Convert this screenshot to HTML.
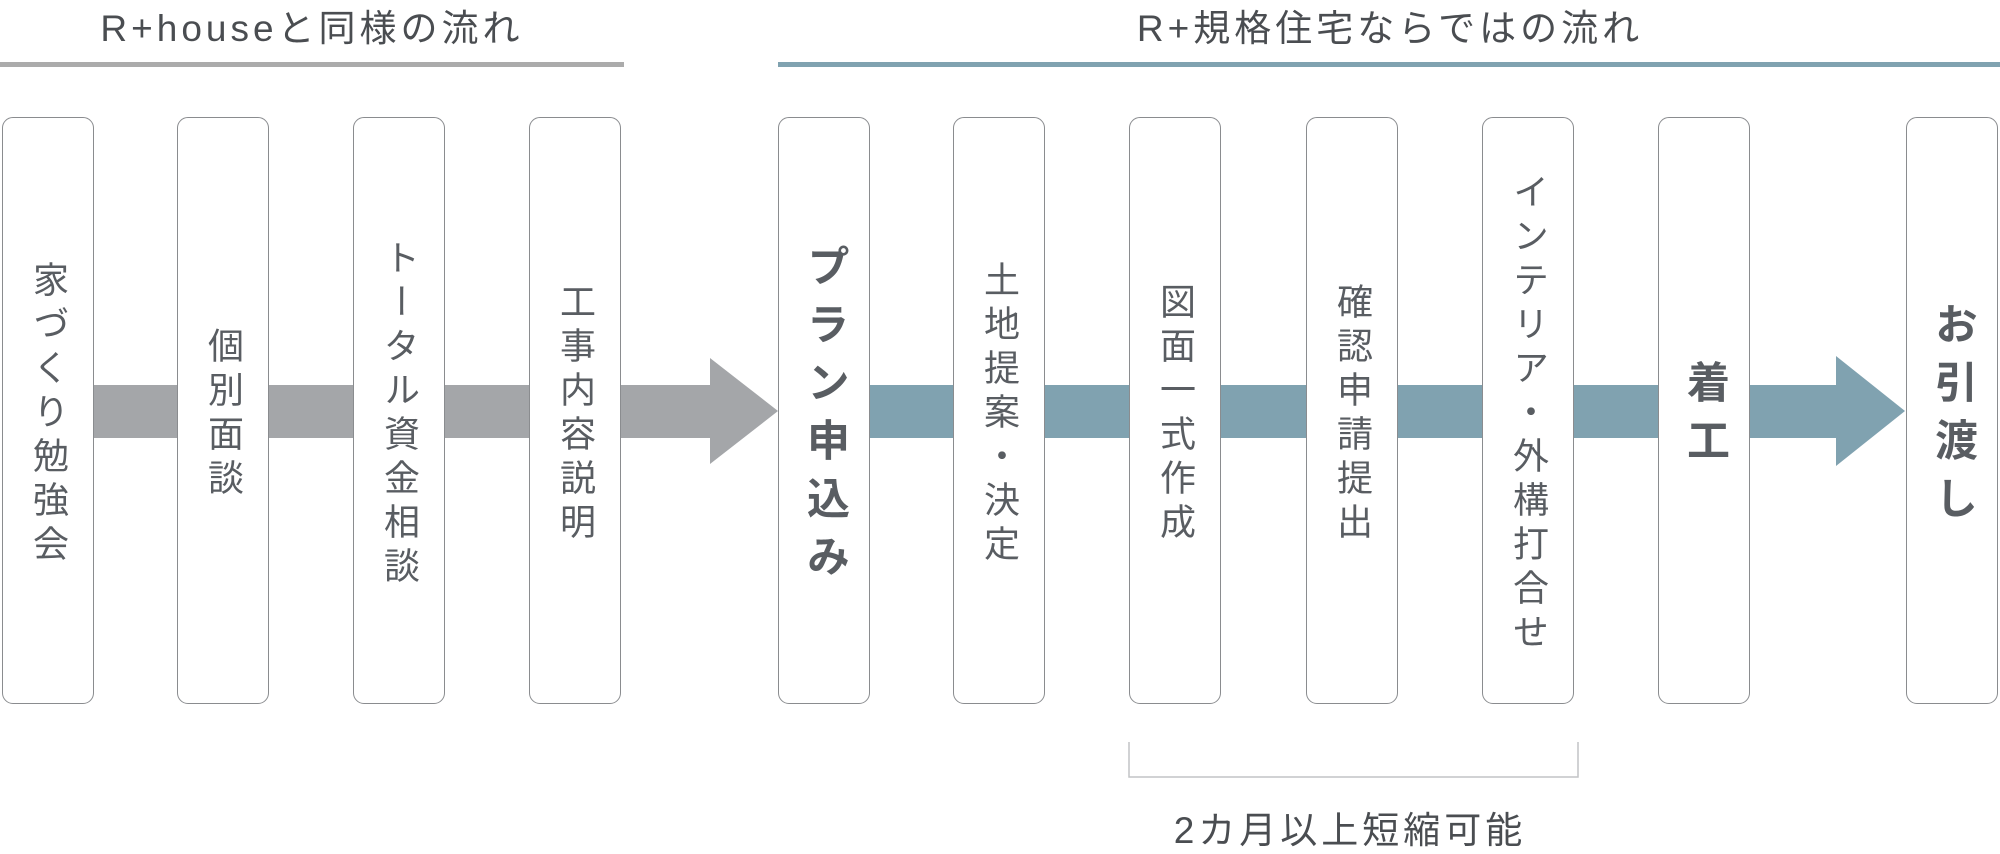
<!DOCTYPE html>
<html><head><meta charset="utf-8"><style>
body{margin:0;width:2000px;height:849px;background:#fff;position:relative;overflow:hidden;font-family:"Liberation Sans","Noto Sans CJK JP",sans-serif;color:#595d62}
.t{position:absolute;font-size:37px;letter-spacing:4px;white-space:nowrap;text-align:center;color:#4a4d51}
.box{position:absolute;top:117px;width:92px;height:587px;border:1.5px solid #8a8c8f;border-radius:11px;background:#fff;box-sizing:border-box;display:flex;align-items:center;justify-content:center}
.box span{writing-mode:vertical-rl;font-size:36px;letter-spacing:8px;line-height:1;padding-top:8px}
.box.b span{font-size:43px;font-weight:bold;letter-spacing:15px;padding-top:15px}
</style></head><body>
<div class="t" style="left:62px;top:-2px;width:500px">R+houseと同様の流れ</div>
<div class="t" style="left:1090px;top:-2px;width:600px">R+規格住宅ならではの流れ</div>
<div style="position:absolute;left:0;top:62px;width:624px;height:5px;background:#ababab"></div>
<div style="position:absolute;left:778px;top:62px;width:1222px;height:5px;background:#80a2b0"></div>
<svg style="position:absolute;left:0;top:0" width="2000" height="849">
<polygon points="60,385 710,385 710,358 778,411 710,464 710,438 60,438" fill="#a4a6a9"/>
<polygon points="860,385 1836,385 1836,356 1905,411 1836,466 1836,438 860,438" fill="#80a2b0"/>
<polyline points="1129,742 1129,777 1578,777 1578,742" fill="none" stroke="#c2c4c6" stroke-width="1.5"/>
</svg>
<div class="box" style="left:2px"><span>家づくり勉強会</span></div>
<div class="box" style="left:177px"><span>個別面談</span></div>
<div class="box" style="left:353px"><span>トータル資金相談</span></div>
<div class="box" style="left:529px"><span>工事内容説明</span></div>
<div class="box b" style="left:778px"><span>プラン申込み</span></div>
<div class="box" style="left:953px"><span>土地提案・決定</span></div>
<div class="box" style="left:1129px"><span>図面一式作成</span></div>
<div class="box" style="left:1306px"><span>確認申請提出</span></div>
<div class="box" style="left:1482px"><span>インテリア・外構打合せ</span></div>
<div class="box b" style="left:1658px"><span>着工</span></div>
<div class="box b" style="left:1906px"><span>お引渡し</span></div>
<div class="t" style="left:1100px;top:800px;width:500px">2カ月以上短縮可能</div>
</body></html>
